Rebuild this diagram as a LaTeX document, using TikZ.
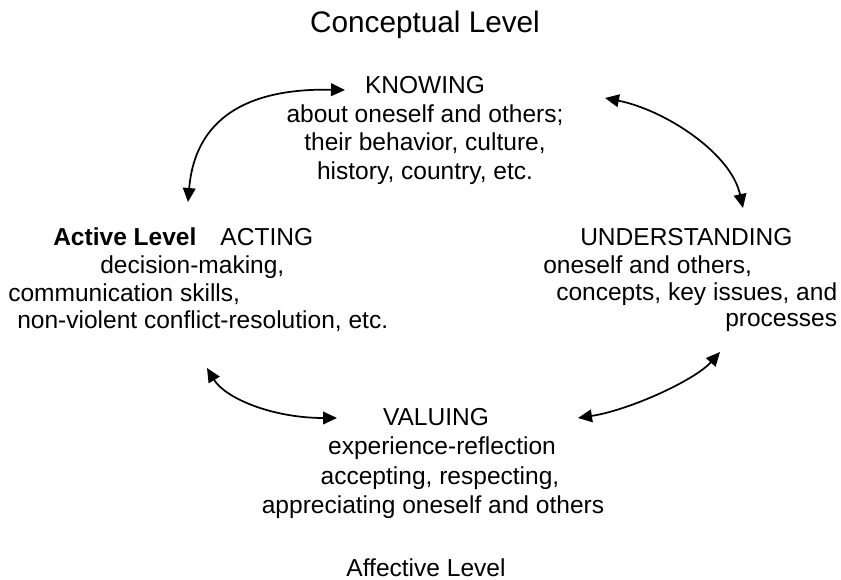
\documentclass[tikz,border=0pt]{standalone}
\usepackage{fontspec}
\setmainfont{Liberation Sans}
\usetikzlibrary{arrows.meta}

\begin{document}
\begin{tikzpicture}[x=0.75pt,y=-0.75pt,
    txt/.style={inner sep=0pt,font=\fontsize{18.4}{22}\selectfont},
    lvl/.style={inner sep=0pt,font=\fontsize{22.3}{26}\selectfont},
    cyc/.style={{Triangle[length=10.5pt,width=9.5pt]}-{Triangle[length=10.5pt,width=9.5pt]},line width=1.3pt}]
      \useasboundingbox (0,0) rectangle (841,580);
      \node[lvl,anchor=base] (concept) at (425,33) {Conceptual Level};
      % knowing
      \node[txt,anchor=base] (k1) at (425,94) {KNOWING};
      \node[txt,anchor=base] (k2) at (425,122.5) {about oneself and others;};
      \node[txt,anchor=base] (k3) at (425,151) {their behavior, culture,};
      \node[txt,anchor=base] (k4) at (425,179.5) {history, country, etc.};
      % acting
      \node[txt,anchor=base west] (a1) at (53,246) {\textbf{Active Level}\hspace{18pt}ACTING};
      \node[txt,anchor=base west] (a2) at (100,273.5) {decision-making,};
      \node[txt,anchor=base west] (a3) at (8,301.5) {communication skills,};
      \node[txt,anchor=base west] (a4) at (17,329) {non-violent conflict-resolution, etc.};
      % understanding
      \node[txt,anchor=base west] (u1) at (580,246) {UNDERSTANDING};
      \node[txt,anchor=base west] (u2) at (543,273.5) {oneself and others,};
      \node[txt,anchor=base west] (u3) at (556,301) {concepts, key issues, and};
      \node[txt,anchor=base west] (u4) at (725,327) {processes};
      % valuing
      \node[txt,anchor=base] (v1) at (436,425) {VALUING};
      \node[txt,anchor=base] (v2) at (442,454.5) {experience-reflection};
      \node[txt,anchor=base] (v3) at (440,484) {accepting, respecting,};
      \node[txt,anchor=base] (v4) at (433,513.5) {appreciating oneself and others};
      \node[txt,anchor=base] (affect) at (426,576) {Affective Level};
      % ends of the arrows
      \coordinate (kW) at (345,90);
      \coordinate (kE) at (605,98);
      \coordinate (aN) at (188,202);
      \coordinate (aS) at (207,368);
      \coordinate (uN) at (743,208);
      \coordinate (uS) at (720,352);
      \coordinate (vW) at (337,418);
      \coordinate (vE) at (578,418);
      \draw[cyc] (aN) .. controls (195,120) and (245,88) .. (kW);
      \draw[cyc] (kE) .. controls (665,110) and (731,153) .. (uN);
      \draw[cyc] (aS) .. controls (225,398) and (272,418) .. (vW);
      \draw[cyc] (uS) .. controls (695,380) and (630,410) .. (vE);
\end{tikzpicture}
\end{document}
